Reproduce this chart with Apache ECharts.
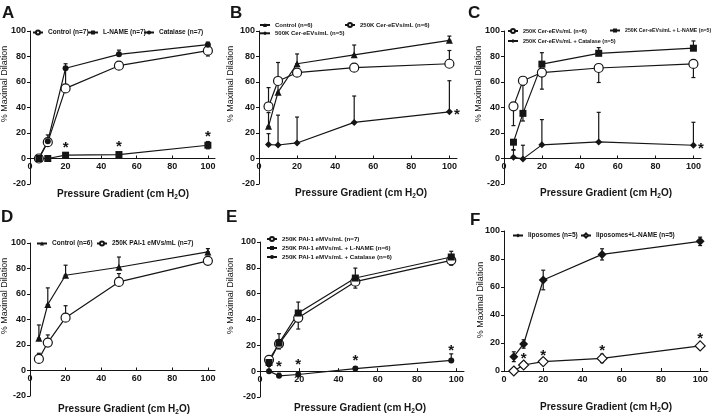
<!DOCTYPE html>
<html><head><meta charset="utf-8">
<script src="https://cdn.jsdelivr.net/npm/echarts@6/dist/echarts.min.js"></script>
<style>html,body{margin:0;padding:0;background:#fff;overflow:hidden}#c{width:716px;height:470px}</style>
</head><body><div id="c"></div>
<script>
// ---------- DATA ----------
const xTicks = [0, 20, 40, 60, 80, 100];
const xStd = [5, 10, 20, 50, 100];
const xE = [4.6, 9.7, 19.5, 48.6, 97.5];

// Panel A
const aControl = [0, 12.8, 55, 72.8, 84.6];
const aControlUp = [0, 0, 15.8, 0, 0];
const aControlDn = [0, 0, 0, 1.5, 4.2];
const aLName = [0, 0, 2.6, 3.1, 10.4];
const aLNameUp = [0, 0, 0.8, 0.8, 2.9];
const aLNameDn = [0, 0, 0.8, 0.8, 2.8];
const aCatalase = [0.3, 13.5, 70.8, 81.7, 89.3];
const aCatalaseUp = [0, 5, 3.5, 3.3, 2];
const aCatalaseDn = [0, 0, 0, 0, 0];
const aStarX = [20, 50, 100];
const aStarY = [10.7, 12, 19.8];

// Panel B
const bControl = [25.2, 52, 74.3, 81.3, 92.7];
const bControlUp = [10.8, 11, 7.7, 7.7, 3.3];
const b250 = [40.8, 60.8, 67.3, 71.2, 74.3];
const b250Up = [14.8, 14.5, 0, 0, 10.4];
const b500 = [10.9, 10.6, 12.2, 28.3, 36.6];
const b500Up = [8.6, 23.4, 20.3, 20.7, 24.4];
const bStarX = [104];
const bStarY = [36.6];

// Panel C
const c250 = [40.9, 61, 67.4, 71, 74.2];
const c250Dn = [15.1, 0, 13, 11.4, 10.7];
const cLName = [12.8, 35.4, 74, 82.5, 86.5];
const cLNameUp = [0, 22, 9, 4.5, 5.7];
const cLNameDn = [6.3, 6, 0, 0, 0];
const cCatalase = [1, -0.3, 10.7, 13, 10.4];
const cCatalaseUp = [6, 10.7, 19.8, 23.2, 18];
const cStarX = [104];
const cStarY = [10.4];

// Panel D
const dControl = [25.3, 51.8, 74.7, 81, 93];
const dControlUp = [10.4, 13, 7.9, 8, 2.6];
const dPAI = [9.1, 21.9, 41.4, 69.5, 86];
const dPAIUp = [4.4, 6, 9.4, 6.5, 3.6];

// Panel E
const ePAI = [8.8, 21.2, 41.3, 69.3, 85.8];
const ePAIDn = [2, 4, 8.7, 5, 3.8];
const eLName = [6.7, 21.7, 45, 72.1, 88.4];
const eLNameUp = [3, 7.3, 8.5, 7.7, 4.4];
const eLNameDn = [3, 0, 0, 0, 0];
const eCatalase = [0, -3.6, -2.6, 2, 8.3];
const eCatalaseUp = [5.7, 2, 2, 1.5, 5.1];
const eStarX = [9.7, 19.5, 48.6, 97.5];
const eStarY = [5.7, 7.5, 10.9, 18.6];

// Panel F
const fLipo = [10.2, 19.3, 65, 83.3, 92.6];
const fLipoErr = [3.5, 3, 7, 4, 3];
const fLipoLN = [0, 4.3, 6.7, 9, 17.9];
const fLipoLNErr = [0.5, 2, 2, 3, 1.5];
const fStarX = [10, 20, 50, 100];
const fStarY = [11, 13.3, 16.7, 25.7];

// ---------- CHART ----------
const INK = '#151515';
const FONT = '"Liberation Sans", Arial, sans-serif';
const zeros = [0, 0, 0, 0, 0];

// data grids (y from yMin to 100)
const panels = [
  {left: 30, top: 31, width: 185, height: 153},
  {left: 259, top: 31, width: 198, height: 153},
  {left: 504, top: 31, width: 197, height: 153},
  {left: 30, top: 243, width: 185, height: 153},
  {left: 260, top: 242, width: 204, height: 155},
  {left: 504, top: 231, width: 204, height: 140}
];
const yMins = [-20, -20, -20, -20, -20, 0];
// companion grids spanning y 0..100 whose bottom edge carries the visible x axis (at y = 0)
const axisGrids = panels.map((g, i) => ({
  left: g.left, top: g.top, width: g.width, height: g.height * 100 / (100 - yMins[i])
}));
const grids = panels.concat(axisGrids).map(g => Object.assign(g, {outerBoundsMode: 'none'}));

const xAxes = panels.map((g, i) => ({
  gridIndex: i, type: 'value', min: 0, max: 104, show: false
})).concat(axisGrids.map((g, i) => ({
  gridIndex: 6 + i, type: 'value', min: 0, max: 104, position: 'bottom',
  axisLine: {onZero: false, lineStyle: {color: INK, width: 1}},
  axisTick: {show: true, inside: true, length: 3, customValues: xTicks, lineStyle: {color: INK}},
  axisLabel: {customValues: xTicks, fontSize: 9, fontWeight: 'bold', color: INK, margin: 4, fontFamily: FONT},
  splitLine: {show: false}
})));

const yAxes = panels.map((g, i) => ({
  gridIndex: i, type: 'value', min: yMins[i], max: 100, interval: 20,
  axisLine: {show: true, onZero: false, lineStyle: {color: INK, width: 1}},
  axisTick: {show: true, inside: false, length: 3, lineStyle: {color: INK}},
  axisLabel: {fontSize: 9, fontWeight: 'bold', color: INK, margin: 4, fontFamily: FONT},
  splitLine: {show: false}
})).concat(axisGrids.map((g, i) => ({
  gridIndex: 6 + i, type: 'value', min: 0, max: 100, show: false
})));

const series = [];

function errData(xs, vals, up, dn) {
  const out = [];
  xs.forEach((x, i) => {
    if ((up[i] || 0) > 0 || (dn[i] || 0) > 0) out.push([x, vals[i] - dn[i], vals[i] + up[i]]);
  });
  return out;
}
function errRender(params, api) {
  const x = api.value(0);
  const p1 = api.coord([x, api.value(1)]);
  const p2 = api.coord([x, api.value(2)]);
  const w = 2, st = {stroke: INK, lineWidth: 1.2};
  return {type: 'group', children: [
    {type: 'line', shape: {x1: p1[0], y1: p1[1], x2: p2[0], y2: p2[1]}, style: st},
    {type: 'line', shape: {x1: p2[0] - w, y1: p2[1], x2: p2[0] + w, y2: p2[1]}, style: st},
    {type: 'line', shape: {x1: p1[0] - w, y1: p1[1], x2: p1[0] + w, y2: p1[1]}, style: st}
  ]};
}
function starRender(params, api) {
  const p = api.coord([api.value(0), api.value(1)]);
  return {type: 'text', x: p[0], y: p[1] + 3.5,
    style: {text: '*', font: 'bold 15px ' + FONT, fill: INK, align: 'center', verticalAlign: 'middle'}};
}

let errCount = 0;
function addSeries(idx, xs, name, vals, up, dn, symbol, size, open) {
  series.push({
    type: 'custom', name: 'err' + (errCount++), xAxisIndex: idx, yAxisIndex: idx,
    renderItem: errRender, data: errData(xs, vals, up, dn), z: 2, silent: true,
    encode: {x: 0, y: [1, 2]}
  });
  series.push({
    type: 'line', name: name, xAxisIndex: idx, yAxisIndex: idx,
    data: xs.map((x, i) => [x, vals[i]]),
    symbol: symbol, symbolSize: size, showSymbol: true,
    lineStyle: {color: INK, width: 1.2},
    itemStyle: {color: open ? '#fff' : INK, borderColor: INK, borderWidth: open ? 1.2 : 0},
    z: 3, silent: true, emphasis: {disabled: true}
  });
}
function addStars(idx, xs, ys) {
  series.push({
    type: 'custom', name: 'stars' + idx, xAxisIndex: idx, yAxisIndex: idx,
    renderItem: starRender, data: xs.map((x, i) => [x, ys[i]]), z: 4, silent: true,
    encode: {x: 0, y: 1}
  });
}

// A
addSeries(0, xStd, 'Control (n=7)', aControl, aControlUp, aControlDn, 'circle', 9, true);
addSeries(0, xStd, 'L-NAME (n=7)', aLName, aLNameUp, aLNameDn, 'rect', 7, false);
addSeries(0, xStd, 'Catalase (n=7)', aCatalase, aCatalaseUp, aCatalaseDn, 'circle', 6, false);
addStars(0, aStarX, aStarY);
// B
addSeries(1, xStd, 'Control (n=6)', bControl, bControlUp, zeros, 'triangle', 7, false);
addSeries(1, xStd, '250K Cer-eEVs/mL (n=6)', b250, b250Up, zeros, 'circle', 9, true);
addSeries(1, xStd, '500K Cer-eEVs/mL (n=5)', b500, b500Up, zeros, 'diamond', 7, false);
addStars(1, bStarX, bStarY);
// C
addSeries(2, xStd, '250K Cer-eEVs/mL (n=6)', c250, zeros, c250Dn, 'circle', 9, true);
addSeries(2, xStd, '250K Cer-eEVs/mL + L-NAME (n=5)', cLName, cLNameUp, cLNameDn, 'rect', 7, false);
addSeries(2, xStd, '250K Cer-eEVs/mL + Catalase (n=5)', cCatalase, cCatalaseUp, zeros, 'diamond', 7, false);
addStars(2, cStarX, cStarY);
// D
addSeries(3, xStd, 'Control (n=6)', dControl, dControlUp, zeros, 'triangle', 7, false);
addSeries(3, xStd, '250K PAI-1 eMVs/mL (n=7)', dPAI, dPAIUp, zeros, 'circle', 9, true);
// E
addSeries(4, xE, '250K PAI-1 eMVs/mL (n=7)', ePAI, zeros, ePAIDn, 'circle', 9, true);
addSeries(4, xE, '250K PAI-1 eMVs/mL + L-NAME (n=6)', eLName, eLNameUp, eLNameDn, 'rect', 7, false);
addSeries(4, xE, '250K PAI-1 eMVs/mL + Catalase (n=6)', eCatalase, eCatalaseUp, zeros, 'circle', 6, false);
addStars(4, eStarX, eStarY);
// F
addSeries(5, xStd, 'liposomes (n=5)', fLipo, fLipoErr, fLipoErr, 'diamond', 9, false);
addSeries(5, xStd, 'liposomes+L-NAME (n=5)', fLipoLN, fLipoLNErr, fLipoLNErr, 'diamond', 10, true);
addStars(5, fStarX, fStarY);

// Legends (one per item so each can be placed like the reference): name, left, centre y, font size
const legendItems = [
  ['Control (n=7)', 32, 33, 6.5], ['L-NAME (n=7)', 87, 33, 6.5], ['Catalase (n=7)', 143, 33, 6.5],
  ['Control (n=6)', 259, 26, 6], ['250K Cer-eEVs/mL (n=6)', 344, 26, 6], ['500K Cer-eEVs/mL (n=5)', 259, 34.3, 6],
  ['250K Cer-eEVs/mL (n=6)', 507, 32, 5.5], ['250K Cer-eEVs/mL + L-NAME (n=5)', 609, 32, 5.2], ['250K Cer-eEVs/mL + Catalase (n=5)', 507, 42, 5.5],
  ['Control (n=6)', 36, 244, 6.5], ['250K PAI-1 eMVs/mL (n=7)', 96, 244, 6.5],
  ['250K PAI-1 eMVs/mL (n=7)', 266, 240, 6.2], ['250K PAI-1 eMVs/mL + L-NAME (n=6)', 266, 249, 6.2], ['250K PAI-1 eMVs/mL + Catalase (n=6)', 266, 258, 6.2],
  ['liposomes (n=5)', 512, 236, 6.5], ['liposomes+L-NAME (n=5)', 580, 236, 6.5]
];
const legends = legendItems.map(([n, x, y, fs]) => ({
  data: [n], left: x, top: y - 4, padding: 0, itemGap: 0,
  itemWidth: 10, itemHeight: 5, selectedMode: false,
  textStyle: {fontSize: fs, fontWeight: 'bold', color: INK, fontFamily: FONT}
}));

// Panel letters, axis titles
const letters = [['A', 2, 5], ['B', 230, 5], ['C', 468, 5], ['D', 1, 209], ['E', 226, 209], ['F', 470, 212]];
const yNames = [[5, 84], [231, 84], [479, 84], [5, 296], [231, 296], [481, 300]];
const xNames = [[123, 194], [361, 193], [606, 193], [124, 409], [360, 408], [606, 407]];
const graphic = [];
letters.forEach(([t, x, y]) => graphic.push({type: 'text', x: x, y: y,
  style: {text: t, font: 'bold 17px ' + FONT, fill: INK, align: 'left', verticalAlign: 'top'}}));
yNames.forEach(([x, y]) => graphic.push({type: 'text', x: x, y: y, rotation: Math.PI / 2,
  style: {text: '% Maximal Dilation', font: '9px ' + FONT, fill: INK, align: 'center', verticalAlign: 'middle'}}));
xNames.forEach(([x, y]) => graphic.push({type: 'text', x: x, y: y,
  style: {
    text: '{a|Pressure Gradient (cm H}{s|2}{a|O)}', align: 'center', verticalAlign: 'middle',
    rich: {
      a: {font: 'bold 10px ' + FONT, fill: INK, lineHeight: 14},
      s: {font: 'bold 6.5px ' + FONT, fill: INK, lineHeight: 14, verticalAlign: 'bottom', padding: [6, 0, 0, 0]}
    }
  }}));

const chart = echarts.init(document.getElementById('c'), null, {renderer: 'canvas'});
chart.setOption({
  animation: false,
  backgroundColor: '#fff',
  textStyle: {fontFamily: FONT},
  grid: grids,
  xAxis: xAxes,
  yAxis: yAxes,
  legend: legends,
  graphic: graphic,
  series: series
});
</script></body></html>
